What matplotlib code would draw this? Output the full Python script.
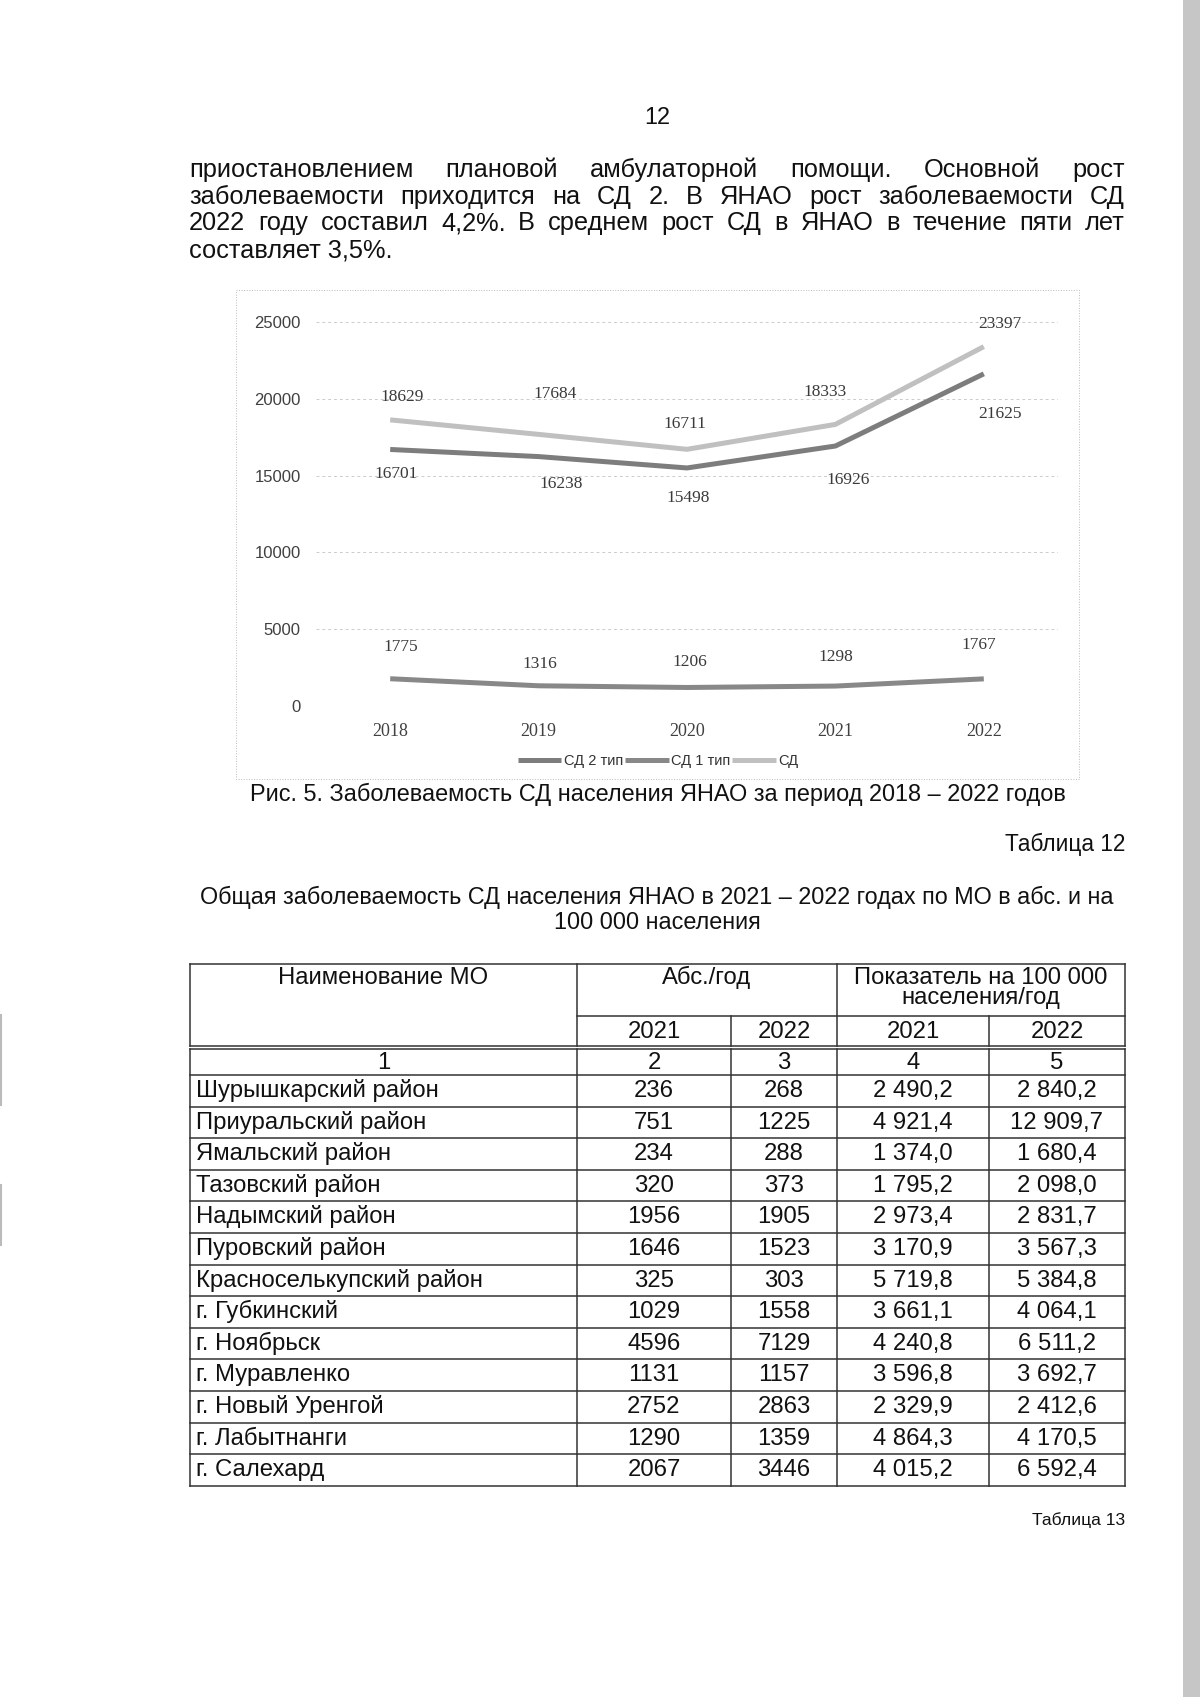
import matplotlib
matplotlib.use("Agg")
import matplotlib.pyplot as plt
from matplotlib.patches import Rectangle

plt.rcParams['font.family'] = ['Liberation Sans', 'DejaVu Sans']

# chart data
years = ["2018", "2019", "2020", "2021", "2022"]
sd_type2 = [16701, 16238, 15498, 16926, 21625]
sd_type1 = [1775, 1316, 1206, 1298, 1767]
sd_total = [18629, 17684, 16711, 18333, 23397]

# table data
mo_names = ["Шурышкарский район", "Приуральский район", "Ямальский район",
            "Тазовский район", "Надымский район", "Пуровский район",
            "Красноселькупский район", "г. Губкинский", "г. Ноябрьск",
            "г. Муравленко", "г. Новый Уренгой", "г. Лабытнанги", "г. Салехард"]
abs_2021 = [236, 751, 234, 320, 1956, 1646, 325, 1029, 4596, 1131, 2752, 1290, 2067]
abs_2022 = [268, 1225, 288, 373, 1905, 1523, 303, 1558, 7129, 1157, 2863, 1359, 3446]
rate_2021 = [2490.2, 4921.4, 1374.0, 1795.2, 2973.4, 3170.9, 5719.8, 3661.1,
             4240.8, 3596.8, 2329.9, 4864.3, 4015.2]
rate_2022 = [2840.2, 12909.7, 1680.4, 2098.0, 2831.7, 3567.3, 5384.8, 4064.1,
             6511.2, 3692.7, 2412.6, 4170.5, 6592.4]

paragraph = [
    "приостановлением плановой амбулаторной помощи. Основной рост",
    "заболеваемости приходится на СД 2. В ЯНАО рост заболеваемости СД",
    "2022 году составил 4,2%. В среднем рост СД в ЯНАО в течение пяти лет",
    "составляет 3,5%.",
]

W, H = 1200, 1697
fig = plt.figure(figsize=(W / 100, H / 100), dpi=100)
page = fig.add_axes([0, 0, 1, 1])
page.set_xlim(0, W)
page.set_ylim(H, 0)
page.axis("off")

BODY = 18.3
TABLE = 17.2
CAPT = 16.9
INK = "#111111"

# scanner edge
page.add_patch(Rectangle((1183, 0), 17, H, color="#c6c6c6", lw=0))
page.plot([1, 1], [1015, 1105], color="#bbbbbb", lw=1.5)
page.plot([1, 1], [1185, 1245], color="#bbbbbb", lw=1.5)

page.text(657, 124, "12", fontsize=CAPT, ha="center", va="baseline", color=INK)

# justified paragraph
renderer = fig.canvas.get_renderer()
x0, x1 = 189, 1125
for i, line in enumerate(paragraph):
    y = 177 + i * 26.7
    if i == len(paragraph) - 1:
        page.text(x0, y, line, fontsize=BODY, va="baseline", color=INK)
        continue
    words = line.split(" ")
    objs = [page.text(x0, y, w, fontsize=BODY, va="baseline", color=INK) for w in words]
    widths = [o.get_window_extent(renderer).width for o in objs]
    gap = (x1 - x0 - sum(widths)) / (len(words) - 1)
    x = x0
    for o, w in zip(objs, widths):
        o.set_x(x)
        x += w + gap

# chart frame
page.add_patch(Rectangle((236, 290), 843, 489, fill=False, ec="#bbbbbb", lw=0.7, ls=":"))

ax = fig.add_axes([316 / W, 1 - 706 / H, 742 / W, 384 / H])
ax.patch.set_alpha(0)
xs = range(len(years))
ax.plot(xs, sd_type2, color="#7d7d7d", lw=3.6, label="СД 2 тип", solid_capstyle="butt", zorder=3)
ax.plot(xs, sd_type1, color="#888888", lw=3.6, label="СД 1 тип", solid_capstyle="butt", zorder=3)
ax.plot(xs, sd_total, color="#c0c0c0", lw=3.6, label="СД", solid_capstyle="butt", zorder=3)
ax.set_xlim(-0.5, 4.5)
ax.set_ylim(0, 25000)
ax.set_yticks(range(0, 25001, 5000))
ax.set_xticks(list(xs))
ax.set_xticklabels(years)
ax.grid(axis="y", color="#cccccc", lw=0.7, ls=(0, (3, 3)))
ax.set_axisbelow(True)
for s in ax.spines.values():
    s.set_visible(False)
ax.tick_params(length=0, colors="#404040")
ax.tick_params(axis="y", pad=11, labelsize=12)
ax.tick_params(axis="x", pad=12, labelsize=13)
for t in ax.get_xticklabels():
    t.set_family("Liberation Serif")

lab_style = dict(textcoords="offset pixels", ha="center", va="center",
                 fontsize=12.5, color="#3a3a3a", family="Liberation Serif")
off_total = [(12, 23), (17, 40), (-2, 25), (-10, 32), (16, 23)]
off_type2 = [(6, -25), (23, -27), (1, -30), (13, -34), (16, -40)]
off_type1 = [(11, 32), (1, 22), (3, 25), (0, 29), (-5, 34)]
for series, offs in ((sd_total, off_total), (sd_type2, off_type2), (sd_type1, off_type1)):
    for i, v in enumerate(series):
        ax.annotate(str(v), (i, v), xytext=offs[i], **lab_style)

leg = ax.legend(loc="center", bbox_to_anchor=(658 / W, 1 - 761 / H),
                bbox_transform=fig.transFigure, ncol=3, frameon=False,
                fontsize=10.5, handlelength=3.0, handletextpad=0.15,
                columnspacing=0.15)
for t in leg.get_texts():
    t.set_color("#333333")

page.text(658, 801, "Рис. 5. Заболеваемость СД населения ЯНАО за период 2018 – 2022 годов",
          fontsize=CAPT, ha="center", va="baseline", color=INK)
page.text(1125, 851, "Таблица 12", fontsize=16.3, ha="right", va="baseline", color=INK)
page.text(657, 904, "Общая заболеваемость СД населения ЯНАО в 2021 – 2022 годах по МО в абс. и на",
          fontsize=16.8, ha="center", va="baseline", color=INK)
page.text(657, 929, "100 000 населения", fontsize=16.8, ha="center", va="baseline", color=INK)

# table
cols = [190, 577, 731, 837, 989, 1125]
top, sub, hbot, num_top, num_bot = 964, 1016, 1046, 1049, 1075
row_h = 31.6
bottom = num_bot + row_h * len(mo_names)
lc = dict(color="#333333", lw=1.1)


def hline(y, xa=cols[0], xb=cols[-1]):
    page.plot([xa, xb], [y, y], **lc)


hline(top)
hline(sub, cols[1])
hline(hbot)
hline(num_top)
for k in range(len(mo_names) + 1):
    hline(num_bot + k * row_h)
for j, x in enumerate(cols):
    if j in (2, 4):
        page.plot([x, x], [sub, hbot], **lc)
    else:
        page.plot([x, x], [top, hbot], **lc)
    page.plot([x, x], [num_top, bottom], **lc)

page.text((cols[0] + cols[1]) / 2, 984, "Наименование МО", fontsize=TABLE, ha="center", va="baseline", color=INK)
page.text((cols[1] + cols[3]) / 2, 984, "Абс./год", fontsize=TABLE, ha="center", va="baseline", color=INK)
page.text((cols[3] + cols[5]) / 2, 984, "Показатель на 100 000", fontsize=TABLE, ha="center", va="baseline", color=INK)
page.text((cols[3] + cols[5]) / 2, 1004, "населения/год", fontsize=TABLE, ha="center", va="baseline", color=INK)
for j, yr in enumerate(["2021", "2022", "2021", "2022"]):
    page.text((cols[j + 1] + cols[j + 2]) / 2, 1038, yr, fontsize=TABLE, ha="center", va="baseline", color=INK)
for j in range(5):
    page.text((cols[j] + cols[j + 1]) / 2, 1069, str(j + 1), fontsize=TABLE, ha="center", va="baseline", color=INK)


def fmt(v):
    return f"{v:,.1f}".replace(",", " ").replace(".", ",")


for i, name in enumerate(mo_names):
    yb = num_bot + i * row_h + 22
    page.text(cols[0] + 6, yb, name, fontsize=TABLE, va="baseline", color=INK)
    vals = [str(abs_2021[i]), str(abs_2022[i]), fmt(rate_2021[i]), fmt(rate_2022[i])]
    for j, s in enumerate(vals):
        page.text((cols[j + 1] + cols[j + 2]) / 2, yb, s, fontsize=TABLE, ha="center", va="baseline", color=INK)

page.text(1125, 1525, "Таблица 13", fontsize=12.6, ha="right", va="baseline", color=INK)

fig.savefig("out.png", dpi=100)
